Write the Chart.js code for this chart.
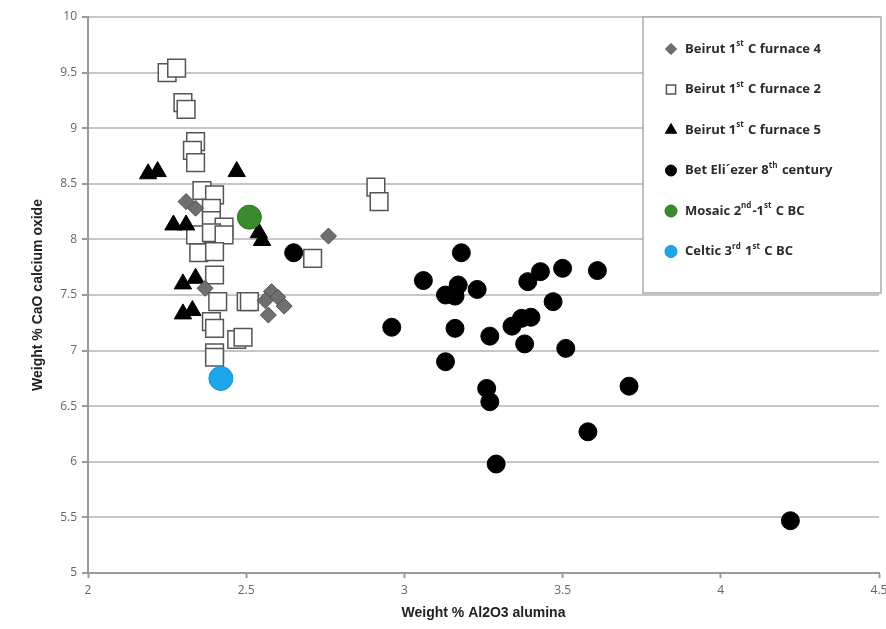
<!DOCTYPE html>
<html>
<head>
<meta charset="utf-8">
<script src="https://cdn.jsdelivr.net/npm/chart.js@4/dist/chart.umd.min.js"></script>
<style>
  html, body { margin: 0; padding: 0; background: #fff; overflow: hidden; }
  #wrap { width: 900px; height: 629px; position: relative; }
</style>
</head>
<body>
<div id="wrap"><canvas id="graph"></canvas></div>
<script>
// values (Al2O3 on x, CaO on y)
const furnace4X = [2.31, 2.34, 2.37, 2.58, 2.60, 2.56, 2.62, 2.57, 2.76];
const furnace4Y = [8.34, 8.28, 7.56, 7.53, 7.48, 7.45, 7.40, 7.32, 8.03];

const furnace2X = [2.25, 2.28, 2.30, 2.31, 2.34, 2.33, 2.34, 2.36, 2.40, 2.39,
                   2.39, 2.43, 2.34, 2.39, 2.43, 2.35, 2.40, 2.40, 2.41, 2.50,
                   2.51, 2.39, 2.40, 2.47, 2.49, 2.40, 2.40, 2.91, 2.92, 2.71];
const furnace2Y = [9.50, 9.54, 9.23, 9.17, 8.88, 8.80, 8.69, 8.44, 8.40, 8.28,
                   8.17, 8.11, 8.04, 8.06, 8.04, 7.88, 7.89, 7.68, 7.44, 7.44,
                   7.44, 7.26, 7.20, 7.10, 7.12, 6.98, 6.94, 8.47, 8.34, 7.83];

const furnace5X = [2.19, 2.22, 2.47, 2.27, 2.31, 2.54, 2.55, 2.30, 2.34, 2.30, 2.33];
const furnace5Y = [8.59, 8.61, 8.61, 8.13, 8.13, 8.06, 7.99, 7.60, 7.65, 7.33, 7.36];

const betEliezerX = [2.65, 3.18, 3.06, 3.13, 3.16, 3.17, 3.23, 3.43, 3.39, 3.50,
                     3.61, 3.47, 2.96, 3.16, 3.27, 3.34, 3.37, 3.40, 3.38, 3.51,
                     3.13, 3.26, 3.27, 3.71, 3.58, 3.29, 4.22];
const betEliezerY = [7.88, 7.88, 7.63, 7.50, 7.49, 7.59, 7.55, 7.71, 7.62, 7.74,
                     7.72, 7.44, 7.21, 7.20, 7.13, 7.22, 7.29, 7.30, 7.06, 7.02,
                     6.90, 6.66, 6.54, 6.68, 6.27, 5.98, 5.47];

const mosaicX = [2.51];
const mosaicY = [8.20];
const celticX = [2.42];
const celticY = [6.75];

const seriesNames = [
  'Beirut 1^st C furnace 4',
  'Beirut 1^st C furnace 2',
  'Beirut 1^st C furnace 5',
  'Bet Eli\u00b4ezer 8^th century',
  'Mosaic 2^nd-1^st C BC',
  'Celtic 3^rd 1^st C BC'
];

const xTicks = [2, 2.5, 3, 3.5, 4, 4.5];
const yTicks = [5, 5.5, 6, 6.5, 7, 7.5, 8, 8.5, 9, 9.5, 10];

function toPoints(xs, ys) {
  return xs.map((x, i) => ({x: x, y: ys[i]}));
}

// marker size used inside the legend box, one per series
const legendRadius = [5.5, 6.5, 6.5, 5.5, 6, 6];

// draws the boxed legend in the top right of the plot, like the original
const boxLegend = {
  id: 'boxLegend',
  afterDatasetsDraw(chart) {
    const {ctx, chartArea} = chart;
    const left = chartArea.right - 236;
    const top = chartArea.top;
    ctx.save();
    ctx.fillStyle = '#fff';
    ctx.fillRect(left, top, 238, 276);
    ctx.strokeStyle = '#ababab';
    ctx.lineWidth = 1.5;
    ctx.strokeRect(left, top, 238, 276);

    chart.data.datasets.forEach((ds, i) => {
      const y = top + 32 + i * 40.5;
      ctx.fillStyle = ds.backgroundColor;
      ctx.strokeStyle = ds.borderColor;
      ctx.lineWidth = ds.borderWidth;
      Chart.helpers.drawPoint(ctx, {
        pointStyle: ds.pointStyle,
        radius: legendRadius[i],
        borderWidth: ds.borderWidth,
        rotation: 0
      }, left + 28, y);

      // label text, with ^xx parts raised as superscripts
      let x = left + 42;
      ctx.fillStyle = '#2b2b2b';
      ctx.textBaseline = 'middle';
      ctx.textAlign = 'left';
      seriesNames[i].split(/(\^\w+)/).forEach(part => {
        if (!part) return;
        if (part[0] === '^') {
          ctx.font = 'bold 8px "Open Sans"';
          ctx.fillText(part.slice(1), x, y - 5);
          x += ctx.measureText(part.slice(1)).width + 1;
        } else {
          ctx.font = 'bold 13px "Open Sans"';
          ctx.fillText(part, x, y);
          x += ctx.measureText(part).width;
        }
      });
    });
    ctx.restore();
  }
};

const graph = document.getElementById('graph');
new Chart(graph, {
  type: 'scatter',
  data: {
    datasets: [
      {
        label: seriesNames[0], data: toPoints(furnace4X, furnace4Y),
        pointStyle: 'rectRot', pointRadius: 8,
        backgroundColor: '#6f6f6f', borderColor: '#505050', borderWidth: 1, order: 1
      },
      {
        label: seriesNames[1], data: toPoints(furnace2X, furnace2Y),
        pointStyle: 'rect', pointRadius: 12.5,
        backgroundColor: '#ffffff', borderColor: '#555555', borderWidth: 1.5, order: 3
      },
      {
        label: seriesNames[2], data: toPoints(furnace5X, furnace5Y),
        pointStyle: 'triangle', pointRadius: 10,
        backgroundColor: '#000000', borderColor: '#000000', borderWidth: 1, order: 2
      },
      {
        label: seriesNames[3], data: toPoints(betEliezerX, betEliezerY),
        pointStyle: 'circle', pointRadius: 9,
        backgroundColor: '#000000', borderColor: '#000000', borderWidth: 1, order: 4
      },
      {
        label: seriesNames[4], data: toPoints(mosaicX, mosaicY),
        pointStyle: 'circle', pointRadius: 12,
        backgroundColor: '#3a8a2e', borderColor: '#2f7424', borderWidth: 1, order: 0
      },
      {
        label: seriesNames[5], data: toPoints(celticX, celticY),
        pointStyle: 'circle', pointRadius: 12,
        backgroundColor: '#1ea6ea', borderColor: '#1690d2', borderWidth: 1, order: 0
      }
    ]
  },
  options: {
    responsive: true,
    maintainAspectRatio: false,
    animation: false,
    events: [],
    layout: { padding: { top: 17, right: 21, bottom: 0, left: 0 } },
    plugins: {
      legend: { display: false },
      tooltip: { enabled: false }
    },
    scales: {
      x: {
        type: 'linear', min: 2, max: 4.5,
        afterBuildTicks: s => { s.ticks = xTicks.map(v => ({value: v})); },
        afterFit: s => { s.height = 56; },
        ticks: {
          color: '#666', padding: 5, font: { family: 'Open Sans', size: 12 },
          callback: v => String(v)
        },
        grid: { drawOnChartArea: false, drawTicks: true, tickLength: 5, tickColor: '#9a9a9a', tickWidth: 2 },
        border: { color: '#9a9a9a', width: 2 },
        title: {
          display: true, text: 'Weight % Al2O3 alumina', color: '#222',
          font: { family: 'Liberation Sans', size: 14, weight: 'bold' },
          padding: { top: 0, bottom: 7 }
        }
      },
      y: {
        type: 'linear', min: 5, max: 10,
        afterBuildTicks: s => { s.ticks = yTicks.map(v => ({value: v})); },
        afterFit: s => { s.width = 88; },
        ticks: {
          color: '#666', padding: 5, font: { family: 'Open Sans', size: 12 },
          callback: v => String(v)
        },
        grid: { color: '#c6c6c6', lineWidth: 2, tickLength: 6, tickColor: '#9a9a9a', tickWidth: 2 },
        border: { color: '#9a9a9a', width: 2 },
        title: {
          display: true, text: 'Weight % CaO calcium oxide', color: '#222',
          font: { family: 'Liberation Sans', size: 14, weight: 'bold' },
          padding: { top: 30, bottom: 0 }
        }
      }
    }
  },
  plugins: [boxLegend]
});
</script>
</body>
</html>
